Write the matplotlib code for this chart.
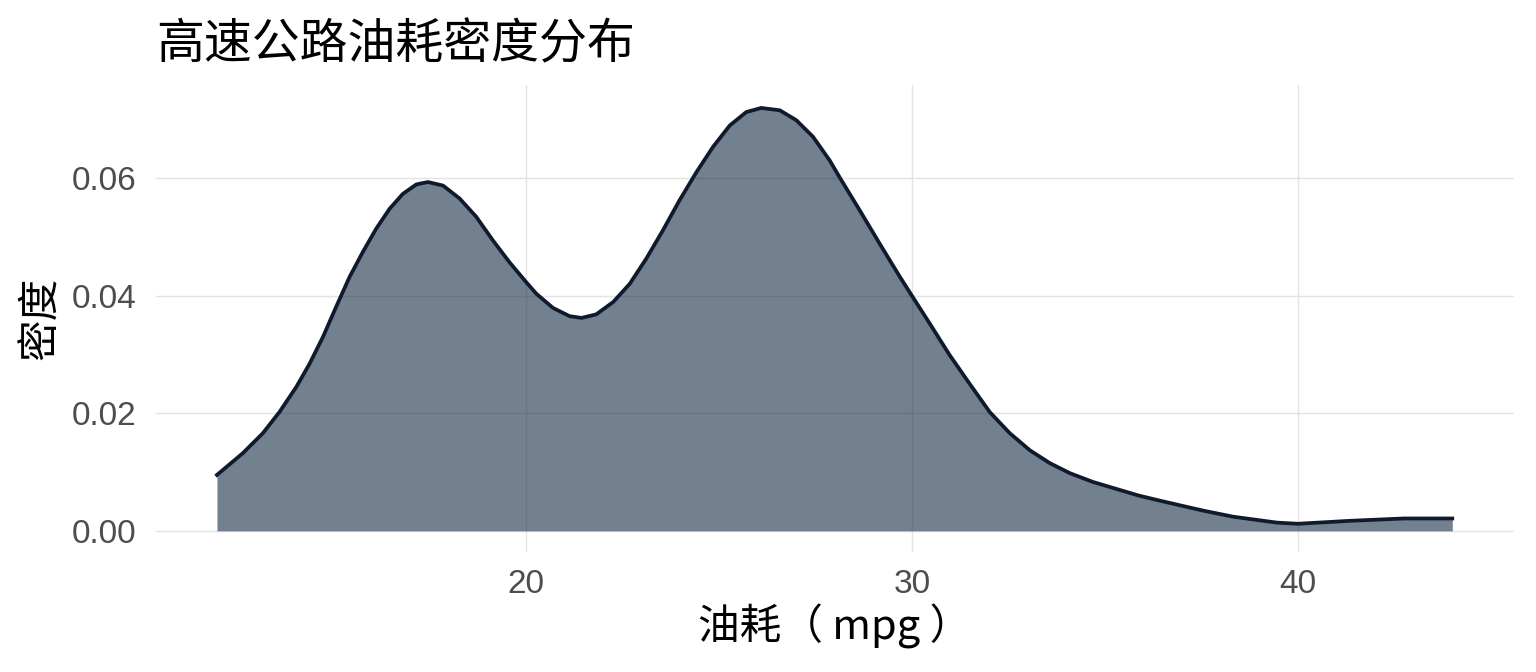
import matplotlib
matplotlib.use("Agg")
import matplotlib.pyplot as plt

# values
hwy = [11.98, 12.65, 13.17, 13.60, 14.04, 14.38, 14.73, 15.07, 15.42, 15.76,
       16.11, 16.46, 16.80, 17.15, 17.45, 17.84, 18.27, 18.70, 19.13, 19.57,
       19.98, 20.26, 20.69, 21.12, 21.43, 21.81, 22.25, 22.68, 23.11, 23.54,
       23.97, 24.41, 24.84, 25.27, 25.70, 26.09, 26.57, 27.00, 27.43, 27.86,
       28.12, 28.64, 29.16, 29.68, 30.01, 30.46, 30.97, 31.49, 32.01, 32.53,
       33.05, 33.57, 34.09, 34.69, 35.87, 36.44, 37.10, 37.57, 38.32, 39.45,
       40.00, 41.34, 42.75, 44.00]
density = [0.0095, 0.0132, 0.0166, 0.0202, 0.0245, 0.0284, 0.0330, 0.0381, 0.0432, 0.0474,
           0.0514, 0.0548, 0.0573, 0.0589, 0.0593, 0.0587, 0.0565, 0.0534, 0.0494, 0.0456,
           0.0424, 0.0403, 0.0379, 0.0365, 0.0362, 0.0368, 0.0389, 0.0420, 0.0463, 0.0511,
           0.0562, 0.0610, 0.0653, 0.0689, 0.0712, 0.0719, 0.0715, 0.0698, 0.0670, 0.0630,
           0.0601, 0.0545, 0.0488, 0.0432, 0.0398, 0.0352, 0.0299, 0.0250, 0.0202, 0.0166,
           0.0137, 0.0115, 0.0098, 0.0083, 0.0060, 0.0051, 0.0041, 0.0034, 0.0024, 0.0014,
           0.0012, 0.0017, 0.0021, 0.0021]
x_ticks = [20, 30, 40]
x_tick_labels = ["20", "30", "40"]
y_ticks = [0.00, 0.02, 0.04, 0.06]
y_tick_labels = ["0.00", "0.02", "0.04", "0.06"]
title = "高速公路油耗密度分布"
x_label = "油耗（ mpg ）"
y_label = "密度"

CJK = ["Noto Sans CJK SC", "DejaVu Sans"]
LAT = ["Liberation Sans", "DejaVu Sans"]

fig = plt.figure(figsize=(15.36, 6.72), dpi=100)
ax = fig.add_axes([156 / 1536, 1 - 552 / 672, (1514 - 156) / 1536, (552 - 85) / 672])

ax.fill_between(hwy, density, 0, color="#142B46", alpha=0.6, linewidth=0, zorder=2)
ax.plot(hwy, density, color="#0F1B2D", lw=2.7, zorder=3, solid_joinstyle="round")

ax.set_xlim(10.4, 45.6)
ax.set_ylim(-0.0036, 0.0758)
ax.set_xticks(x_ticks)
ax.set_xticklabels(x_tick_labels)
ax.set_yticks(y_ticks)
ax.set_yticklabels(y_tick_labels)
for s in ax.spines.values():
    s.set_visible(False)
ax.set_axisbelow(True)
ax.grid(True, color="#E3E3E3", linewidth=1.0, zorder=0)
ax.tick_params(axis="both", length=0, labelsize=24, labelcolor="#4D4D4D")
ax.tick_params(axis="y", pad=14)
ax.tick_params(axis="x", pad=12)
for lab in ax.get_xticklabels() + ax.get_yticklabels():
    lab.set_family(LAT)

ax.set_xlabel(x_label, fontsize=30, family=CJK, color="black", labelpad=3)
ax.set_ylabel(y_label, fontsize=30, family=CJK, color="black", labelpad=7)

fig.text(156 / 1536, 1 - 58 / 672, title, fontsize=34.5, family=CJK,
         color="black", ha="left", va="baseline")

fig.savefig("out.png", dpi=100, facecolor="white")
